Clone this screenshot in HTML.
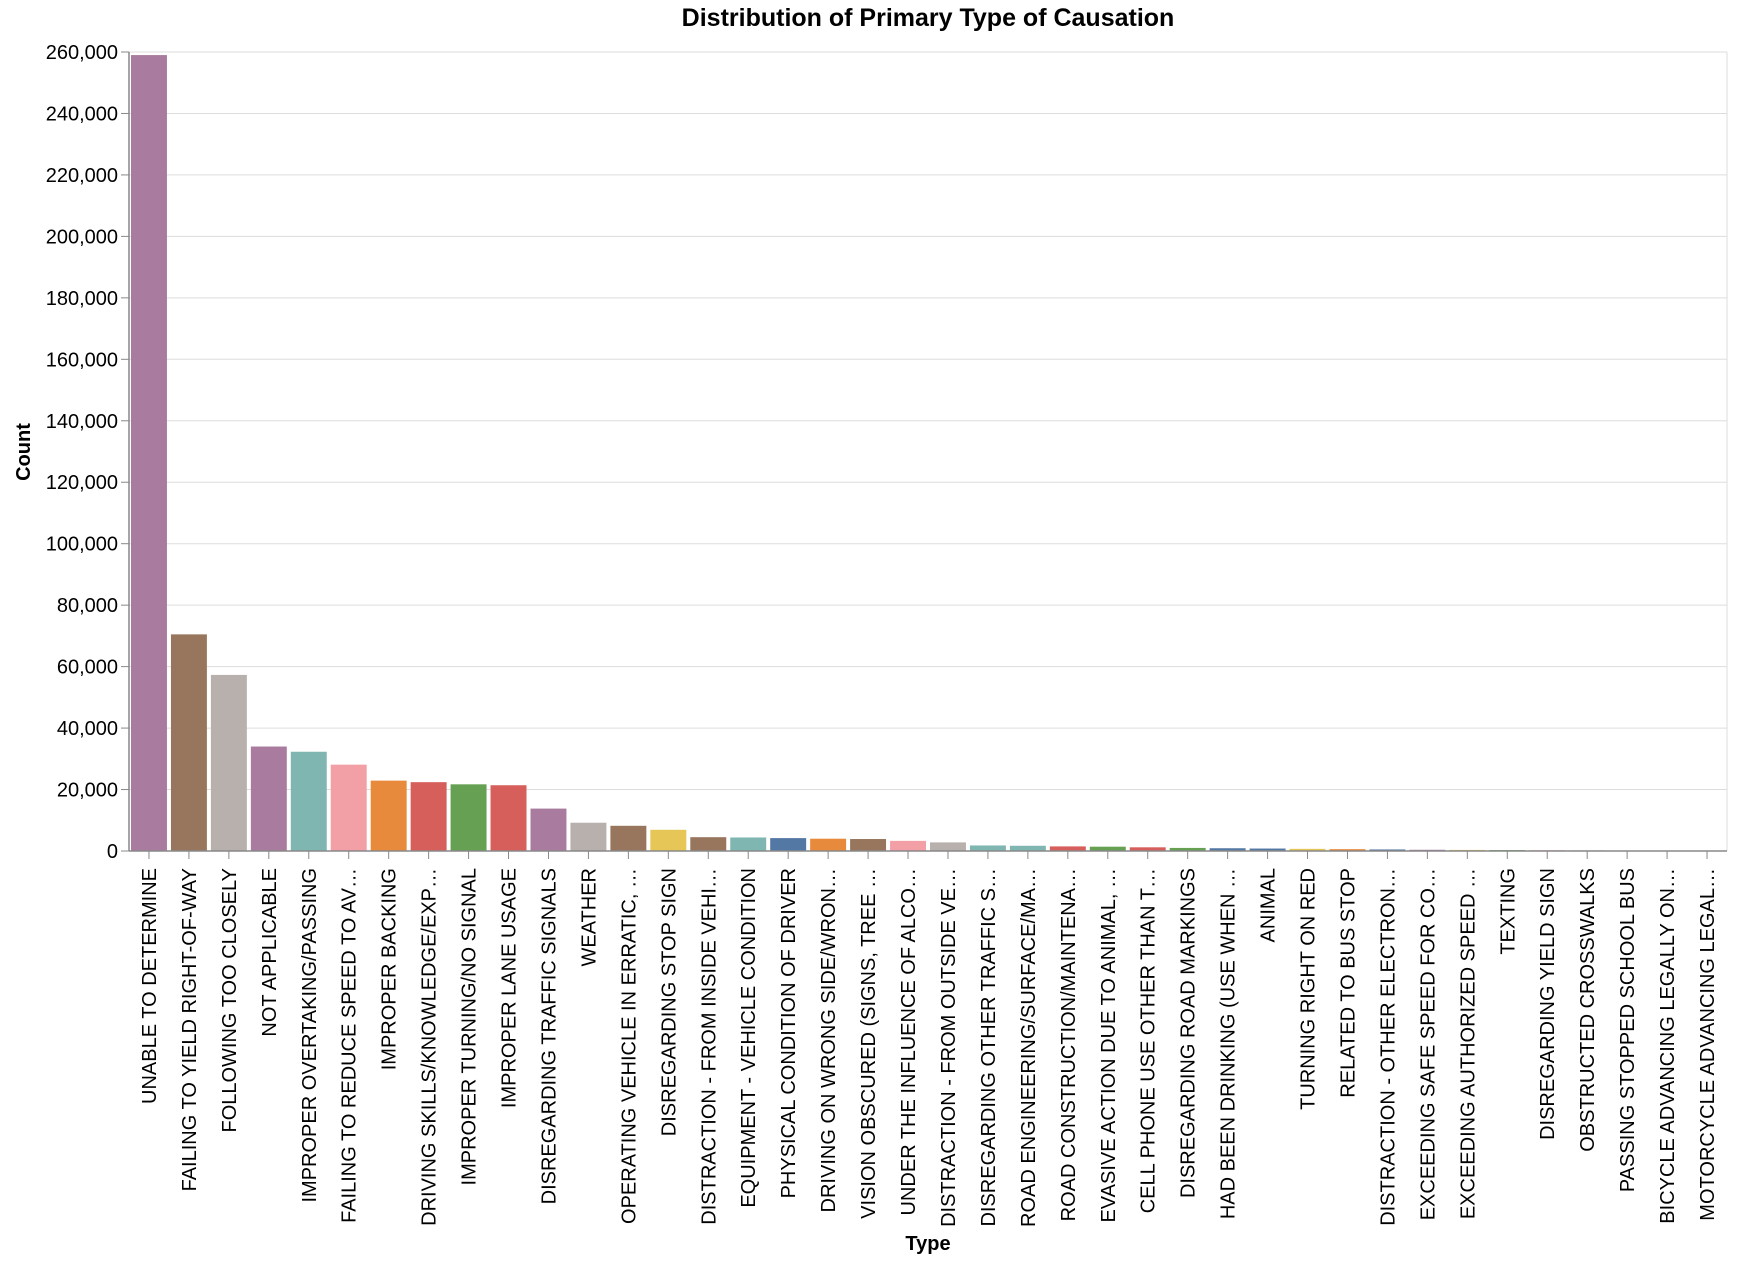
<!DOCTYPE html>
<html><head><meta charset="utf-8"><style>
html,body{margin:0;padding:0;background:#fff;}
svg{display:block;font-family:"Liberation Sans",Arial,sans-serif;}
</style></head><body>
<svg id="chart" width="1738" height="1268" viewBox="0 0 1738 1268" xmlns="http://www.w3.org/2000/svg">
<text x="928" y="26" text-anchor="middle" font-size="25" font-weight="bold" fill="#000">Distribution of Primary Type of Causation</text>
<g id="grid"></g>
<g id="bars"></g>
<g id="yaxis"></g>
<g id="xaxis"></g>
<text transform="translate(30,452) rotate(-90)" text-anchor="middle" font-size="20" font-weight="bold">Count</text>
<text x="928" y="1250" text-anchor="middle" font-size="20" font-weight="bold">Type</text>
</svg>
<script>
const categories = ["UNABLE TO DETERMINE","FAILING TO YIELD RIGHT-OF-WAY","FOLLOWING TOO CLOSELY","NOT APPLICABLE","IMPROPER OVERTAKING/PASSING","FAILING TO REDUCE SPEED TO AV…","IMPROPER BACKING","DRIVING SKILLS/KNOWLEDGE/EXP…","IMPROPER TURNING/NO SIGNAL","IMPROPER LANE USAGE","DISREGARDING TRAFFIC SIGNALS","WEATHER","OPERATING VEHICLE IN ERRATIC, …","DISREGARDING STOP SIGN","DISTRACTION - FROM INSIDE VEHI…","EQUIPMENT - VEHICLE CONDITION","PHYSICAL CONDITION OF DRIVER","DRIVING ON WRONG SIDE/WRON…","VISION OBSCURED (SIGNS, TREE …","UNDER THE INFLUENCE OF ALCO…","DISTRACTION - FROM OUTSIDE VE…","DISREGARDING OTHER TRAFFIC S…","ROAD ENGINEERING/SURFACE/MA…","ROAD CONSTRUCTION/MAINTENA…","EVASIVE ACTION DUE TO ANIMAL, …","CELL PHONE USE OTHER THAN T…","DISREGARDING ROAD MARKINGS","HAD BEEN DRINKING (USE WHEN …","ANIMAL","TURNING RIGHT ON RED","RELATED TO BUS STOP","DISTRACTION - OTHER ELECTRON…","EXCEEDING SAFE SPEED FOR CO…","EXCEEDING AUTHORIZED SPEED …","TEXTING","DISREGARDING YIELD SIGN","OBSTRUCTED CROSSWALKS","PASSING STOPPED SCHOOL BUS","BICYCLE ADVANCING LEGALLY ON…","MOTORCYCLE ADVANCING LEGAL…"];
const counts = [259000,70500,57300,34000,32300,28100,22900,22400,21700,21400,13800,9200,8200,6900,4500,4400,4200,4000,3900,3300,2800,1800,1700,1500,1400,1200,1000,900,800,700,600,500,400,350,300,250,200,150,100,80];
const barColors = ["#a97c9f","#98765e","#b8b0ac","#a97c9f","#80b6b1","#f2a0a6","#e88a3b","#d65f5c","#65a053","#d65f5c","#a97c9f","#b8b0ac","#98765e","#e5c656","#98765e","#80b6b1","#5478a4","#e88a3b","#98765e","#f2a0a6","#b8b0ac","#80b6b1","#80b6b1","#d65f5c","#65a053","#d65f5c","#65a053","#5478a4","#5478a4","#e5c656","#e88a3b","#5478a4","#a97c9f","#e5c656","#65a053","#f2a0a6","#b8b0ac","#d65f5c","#a97c9f","#b8b0ac"];
const yTicks = [0,20000,40000,60000,80000,100000,120000,140000,160000,180000,200000,220000,240000,260000];

const NS="http://www.w3.org/2000/svg";
const L=129,R=1727,T=52,B=851,yMax=260000;
const band=(R-L)/categories.length;
const y=v=>B-(v/yMax)*(B-T);
const x=i=>L+i*band;
function mk(tag,attrs,parent){const e=document.createElementNS(NS,tag);for(const k in attrs)e.setAttribute(k,attrs[k]);parent.appendChild(e);return e;}
const grid=document.getElementById('grid'),bars=document.getElementById('bars'),ya=document.getElementById('yaxis'),xa=document.getElementById('xaxis');
yTicks.forEach(t=>{
  const g=mk('line',{x1:L,x2:R,y1:y(t),y2:y(t),stroke:'#ddd','stroke-width':1},grid);
  
  
  const tk=mk('line',{x1:L-8,x2:L,y1:y(t),y2:y(t),stroke:'#888','stroke-width':1},ya);
  
  
  const lb=mk('text',{x:L-11,y:y(t)+7,'text-anchor':'end','font-size':20,fill:'#000'},ya);
  lb.textContent=t.toLocaleString('en-US');
  
  
});
mk('line',{x1:R,x2:R,y1:T,y2:B,stroke:'#ddd'},grid);
categories.forEach((c,i)=>{
  const bw=band*0.9, bx=x(i)+band*0.05;
  const r=mk('rect',{x:bx,y:y(counts[i]),width:bw,height:B-y(counts[i]),fill:barColors[i]},bars);
  
  
  const cx=x(i)+band/2;
  const tk=mk('line',{x1:cx,x2:cx,y1:B,y2:B+8,stroke:'#888'},xa);
  
  
  const lb=mk('text',{transform:`translate(${cx+7},${B+17}) rotate(-90)`,'text-anchor':'end','font-size':20,fill:'#000'},xa);
  lb.textContent=c;
  
  
});
const yl=mk('line',{x1:L,x2:L,y1:T,y2:B,stroke:'#888','stroke-width':1.5},ya);


const xl=mk('line',{x1:L,x2:R,y1:B,y2:B,stroke:'#888','stroke-width':1.5},xa);


</script>
</body></html>
